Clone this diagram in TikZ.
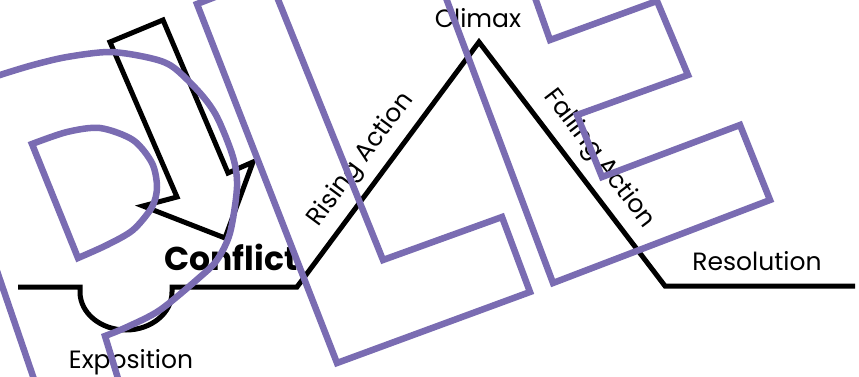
\documentclass[tikz,border=0pt]{standalone}
\usepackage{fontspec}
\setmainfont{Poppins}
\definecolor{StampPurple}{HTML}{7A6CB2}
\usetikzlibrary{calc}

\begin{document}
\begin{tikzpicture}[x=1pt, y=-1pt, line join=miter,
    plotline/.style={line width=5pt, black},
    stamp/.style={line width=6.5pt, StampPurple},
    lbl/.style={font=\fontsize{25}{28}\selectfont, inner sep=0pt}]
  \useasboundingbox (0,0) rectangle (859,377);

  % Plot line corners
  \coordinate (start) at (18,287);
  \coordinate (dipL) at (80,287);
  \coordinate (dipR) at (172,287);
  \coordinate (rise) at (297,287);
  \coordinate (peak) at (479,42);
  \coordinate (fall) at (665,286);
  \coordinate (finish) at (855,286);

  % Plot line with the dip under Exposition
  \draw[plotline] (start) -- (dipL) -- ++(0,5)
    arc[start angle=180, end angle=0, x radius=46, y radius=38] -- (dipR) -- (rise)
    -- node[lbl, sloped, above=9pt, pos=0.46] (risingtxt) {Rising Action} (peak)
    -- node[lbl, sloped, above=9pt, pos=0.54] (fallingtxt) {Falling Action} (fall)
    -- (finish);

  % Labels
  \node[lbl, anchor=base] (climax) at (478,28) {Climax};
  \node[lbl, anchor=base] (exposition) at (131,368) {Exposition};
  \node[lbl, anchor=base] (resolution) at (757,270) {Resolution};
  \node[lbl, anchor=base, font=\fontsize{33}{36}\selectfont\bfseries] (conflict) at (231,270) {Conflict};

  % Block arrow pointing at the conflict
  \draw[plotline] (110,42) -- (163,20) -- (228,173) -- (253,162) -- (225,238)
    -- (143,206) -- (177,197) -- cycle;

  % Stamp letters on top
  \begin{scope}
    \clip (0,0) rectangle (859,377);
    % P
    \draw[stamp] plot[smooth] coordinates {(-10,79) (0,75) (33,65) (67,57) (110,52)
      (150,58) (173,67) (200,93) (217,117) (233,157) (237,187) (230,233) (217,260)
      (200,277) (160,310) (127,327) (105,336)} -- (120,385);
    \draw[stamp] plot[smooth] coordinates {(32,144) (67,132) (100,128) (133,140)
      (152,163) (157,187) (152,207) (133,230) (107,245) (78,258)} -- cycle;
    \draw[stamp] (-3,271) -- (37,388);
    % L
    \draw[stamp] (228,-8) -- (197,4) -- (337,363) -- (530,292) -- (502,217)
      -- (383,260) -- (275,-8);
    % E
    \draw[stamp] (443,-10) -- (553,283) -- (770,200) -- (740,125) -- (602,177)
      -- (577,115) -- (688,75) -- (657,1) -- (550,40) -- (533,-8);
  \end{scope}
\end{tikzpicture}
\end{document}
